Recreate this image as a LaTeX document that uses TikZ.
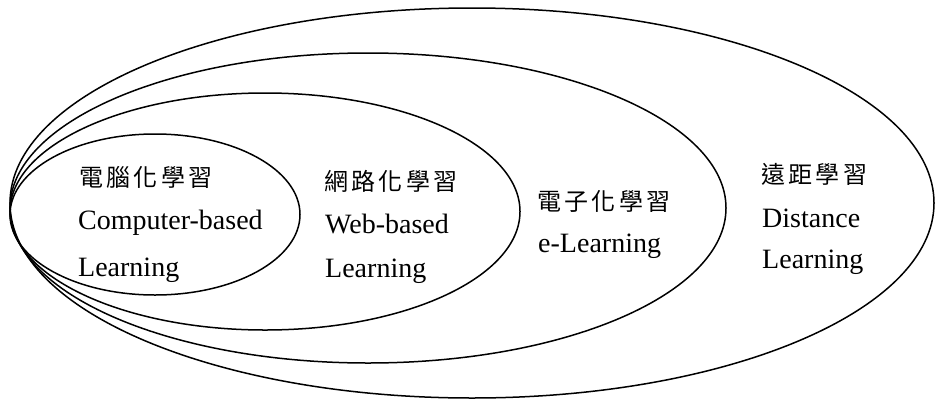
\documentclass[tikz,border=0pt]{standalone}
\usepackage{fontspec}
\setmainfont{Liberation Serif}
\newfontfamily\cjk[LetterSpace=14]{Noto Sans CJK TC}
\begin{document}
\begin{tikzpicture}[x=1pt,y=-1pt,
  ring/.style={draw=black,line width=1.5pt},
  zh/.style={anchor=west,inner sep=0pt,font=\cjk\fontsize{24}{24}\selectfont},
  en/.style={anchor=base west,inner sep=0pt,font=\fontsize{28}{28}\selectfont}]
\useasboundingbox (0,0) rectangle (936,402);
\draw[ring] (155,214.5) ellipse [x radius=145pt, y radius=80.5pt];
\draw[ring] (265,211.5) ellipse [x radius=255pt, y radius=118.5pt];
\draw[ring] (368,208) ellipse [x radius=358pt, y radius=155pt];
\draw[ring] (472,203) ellipse [x radius=462pt, y radius=195pt];
% innermost
\node[zh] (cz) at (79,177) {電腦化學習};
\node[en] (c1) at (78,229) {Computer-based};
\node[en] (c2) at (78,276) {Learning};
% web
\node[zh] (wz) at (324,181) {網路化學習};
\node[en] (w1) at (325,233) {Web-based};
\node[en] (w2) at (325,277) {Learning};
% e-learning
\node[zh] (ez) at (537,201) {電子化學習};
\node[en] (e1) at (538,252) {e-Learning};
% distance
\node[zh] (dz) at (761,174) {遠距學習};
\node[en] (d1) at (762,227) {Distance};
\node[en] (d2) at (762,268) {Learning};
\end{tikzpicture}
\end{document}
